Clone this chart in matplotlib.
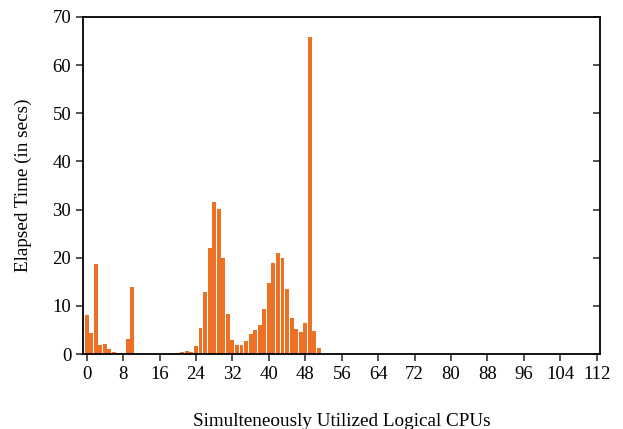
import matplotlib
matplotlib.use('Agg')
import matplotlib.pyplot as plt

# elapsed time per number of simultaneously used logical CPUs
cpus = list(range(0, 53))
elapsed = [8.2, 4.3, 18.6, 1.8, 2.1, 1.1, 0.4, 0.3, 0.3, 3.2,
           14.0, 0.1, 0.1, 0.1, 0.1, 0.1, 0.1, 0.1, 0.1, 0.2,
           0.3, 0.5, 0.6, 0.4, 1.7, 5.5, 12.9, 22.0, 31.6, 30.1,
           20.0, 8.3, 2.9, 1.9, 1.9, 2.7, 4.2, 5.0, 6.0, 9.4,
           14.8, 18.8, 21.0, 20.0, 13.5, 7.5, 5.2, 4.6, 6.4, 65.9,
           4.8, 1.3, 0.1]
xticks = list(range(0, 113, 8))
yticks = list(range(0, 71, 10))

plt.rcParams['font.family'] = ['Liberation Serif', 'DejaVu Serif']

fig = plt.figure(figsize=(6.23, 4.29), dpi=100)
ax = fig.add_axes([0.1332, 0.1748, 0.8298, 0.7856])
ax.bar(cpus, elapsed, width=0.85, color='#EE7024', linewidth=0)

ax.set_xlim(-0.8, 112.7)
ax.set_ylim(0, 70)
ax.set_xticks(xticks)
ax.set_yticks(yticks)
ax.tick_params(axis='both', labelsize=13.5, length=5, width=1.2, color='#333333')
ax.tick_params(axis='y', right=True, which='both')
for t in ax.yaxis.get_major_ticks():
    t.tick2line.set_marker(matplotlib.lines.TICKLEFT)
for s in ax.spines.values():
    s.set_linewidth(1.3)

ax.set_xlabel('Simulteneously Utilized Logical CPUs', fontsize=13.8, labelpad=22)
ax.set_ylabel('Elapsed Time (in secs)', fontsize=13.8, labelpad=15)

fig.savefig('out.png', dpi=100)
